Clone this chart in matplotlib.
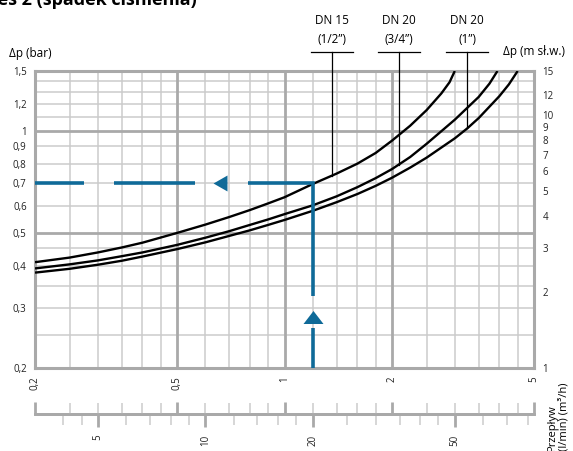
import matplotlib
matplotlib.use('Agg')
import matplotlib.pyplot as plt
from matplotlib.ticker import FixedLocator, FixedFormatter, NullLocator, NullFormatter

plt.rcParams['font.family'] = ['Open Sans', 'DejaVu Sans']

# ---------------- data ----------------
q_dn15 = [0.2, 0.25, 0.3, 0.35, 0.4, 0.5, 0.6, 0.7, 0.8, 0.9, 1.0, 1.2, 1.4, 1.6, 1.8, 2.0, 2.25, 2.5, 2.75, 2.9, 2.95, 3.0]
p_dn15 = [0.41, 0.423, 0.438, 0.453, 0.468, 0.50, 0.529, 0.557, 0.584, 0.611, 0.637, 0.697, 0.748, 0.80, 0.86, 0.935, 1.035, 1.15, 1.288, 1.39, 1.445, 1.5]

q_dn20a = [0.2, 0.25, 0.3, 0.35, 0.4, 0.5, 0.6, 0.7, 0.8, 0.9, 1.0, 1.2, 1.4, 1.6, 1.8, 2.0, 2.25, 2.5, 3.0, 3.5, 3.75, 3.95]
p_dn20a = [0.393, 0.404, 0.415, 0.427, 0.438, 0.461, 0.484, 0.506, 0.528, 0.548, 0.568, 0.603, 0.641, 0.682, 0.725, 0.771, 0.837, 0.915, 1.078, 1.258, 1.376, 1.5]

q_dn20b = [0.2, 0.25, 0.3, 0.35, 0.4, 0.5, 0.6, 0.7, 0.8, 0.9, 1.0, 1.2, 1.4, 1.6, 1.8, 2.0, 2.25, 2.5, 3.0, 3.25, 3.5, 4.0, 4.25, 4.5]
p_dn20b = [0.382, 0.392, 0.403, 0.414, 0.426, 0.448, 0.469, 0.49, 0.509, 0.528, 0.546, 0.581, 0.616, 0.651, 0.688, 0.727, 0.779, 0.833, 0.95, 1.016, 1.09, 1.265, 1.369, 1.5]

series_names = ["DN 15", "DN 20", "DN 20"]
series_sizes = ["(1/2”)", "(3/4”)", "(1”)"]
leader_q = [1.36, 2.09, 3.25]
leader_p = [0.738, 0.795, 1.016]

# example reading (blue guide)
guide_q = 1.2
guide_p = 0.7

# axes ticks / grids
x_ticks = [0.2, 0.5, 1, 2, 5]
x_ticklabels = ["0,2", "0,5", "1", "2", "5"]
x_grid_major = [0.5, 1, 2]
x_grid_minor = [0.25, 0.3, 0.35, 0.4, 0.45, 0.6, 0.7, 0.8, 0.9, 1.2, 1.4, 1.6, 1.8, 2.5, 3, 3.5, 4, 4.5]

y_ticks = [0.2, 0.3, 0.4, 0.5, 0.6, 0.7, 0.8, 0.9, 1, 1.2, 1.5]
y_ticklabels = ["0,2", "0,3", "0,4", "0,5", "0,6", "0,7", "0,8", "0,9", "1", "1,2", "1,5"]
y_grid_major = [0.5, 1]
y_grid_minor = [0.25, 0.3, 0.35, 0.4, 0.45, 0.6, 0.7, 0.8, 0.9, 1.1, 1.2, 1.3, 1.4]

yr_ticks = [1, 2, 3, 4, 5, 6, 7, 8, 9, 10, 12, 15]
yr_ticklabels = [str(v) for v in yr_ticks]

lmin_major = [5, 10, 20, 50]
lmin_minor = [4, 4.5, 6, 7, 8, 9, 12, 14, 16, 18, 25, 30, 35, 40, 45, 60, 70, 80]

# ---------------- figure ----------------
W, H = 573, 451
fig = plt.figure(figsize=(W / 100, H / 100), dpi=100)

L, R, T, B = 35, 534, 71, 368
ax = fig.add_axes([L / W, 1 - B / H, (R - L) / W, (B - T) / H])
ax.set_xscale('log')
ax.set_yscale('log')
ax.set_xlim(0.2, 5)
ax.set_ylim(0.2, 1.5)

grid_minor_c = '#cbcbcb'
grid_major_c = '#a9a9a9'
frame_c = '#a9a9a9'
blue = '#0f6a98'

for v in x_grid_minor:
    ax.axvline(v, color=grid_minor_c, lw=1.1, zorder=1)
for v in y_grid_minor:
    ax.axhline(v, color=grid_minor_c, lw=1.1, zorder=1)
for v in x_grid_major:
    ax.axvline(v, color=grid_major_c, lw=2.0, zorder=1.2)
for v in y_grid_major:
    ax.axhline(v, color=grid_major_c, lw=2.0, zorder=1.2)

for s in ax.spines.values():
    s.set_color(frame_c)
    s.set_linewidth(2.2)

ax.xaxis.set_major_locator(FixedLocator(x_ticks))
ax.xaxis.set_major_formatter(FixedFormatter(x_ticklabels))
ax.xaxis.set_minor_locator(NullLocator())
ax.yaxis.set_major_locator(FixedLocator(y_ticks))
ax.yaxis.set_major_formatter(FixedFormatter(y_ticklabels))
ax.yaxis.set_minor_locator(NullLocator())
ax.tick_params(axis='x', length=0, pad=6, labelsize=7, labelrotation=90, colors='#222222')
ax.tick_params(axis='y', length=0, pad=6, labelsize=7, colors='#222222')

# curves
for q, p in [(q_dn15, p_dn15), (q_dn20a, p_dn20a), (q_dn20b, p_dn20b)]:
    ax.plot(q, p, color='black', lw=1.7, zorder=3, solid_capstyle='butt', solid_joinstyle='round')

# guide lines (blue)
lw_b = 2.6
ax.plot([0.2, 0.274], [guide_p, guide_p], color=blue, lw=lw_b, solid_capstyle='butt', zorder=4)
ax.plot([0.332, 0.562], [guide_p, guide_p], color=blue, lw=lw_b, solid_capstyle='butt', zorder=4)
ax.plot([0.79, guide_q, guide_q], [guide_p, guide_p, 0.325], color=blue, lw=lw_b,
        solid_capstyle='butt', solid_joinstyle='miter', zorder=4)
ax.plot([guide_q, guide_q], [0.262, 0.2], color=blue, lw=lw_b, solid_capstyle='butt', zorder=4, clip_on=False)
left_tri = [(-7, 0), (7, -8), (7, 8), (-7, 0)]
up_tri = [(-10, -6.5), (10, -6.5), (0, 6.5), (-10, -6.5)]
ax.plot([0.66], [guide_p], marker=left_tri, ms=11.5, color=blue, mec='none', zorder=4)
ax.plot([guide_q], [0.283], marker=up_tri, ms=14.4, color=blue, mec='none', zorder=4)

# leaders & labels
ylo, yhi = 0.2, 1.5
def frac_to_y(f):
    return ylo * (yhi / ylo) ** f
y_lead_top = frac_to_y((B - 52) / (B - T))
half = 10 ** (21 / 357)
xt = ax.get_xaxis_transform()
for name, size, q, p in zip(series_names, series_sizes, leader_q, leader_p):
    ax.plot([q, q], [p, y_lead_top], color='black', lw=0.9, zorder=3.5, clip_on=False)
    ax.plot([q / half, q * half], [y_lead_top, y_lead_top], color='black', lw=0.9, zorder=3.5, clip_on=False)
    ax.text(q, (B - 21) / (B - T), name, transform=xt, ha='center', va='center', fontsize=8.5)
    ax.text(q, (B - 40) / (B - T), size, transform=xt, ha='center', va='center', fontsize=8.5)

# right axis (m sł.w.)
axr = ax.twinx()
axr.set_yscale('log')
axr.set_ylim(1, 15)
axr.yaxis.set_major_locator(FixedLocator(yr_ticks))
axr.yaxis.set_major_formatter(FixedFormatter(yr_ticklabels))
axr.yaxis.set_minor_locator(NullLocator())
axr.tick_params(axis='y', length=0, pad=6, labelsize=7, colors='#222222')
for s in axr.spines.values():
    s.set_visible(False)

# lower flow scale
LINE_Y = 414
axb = fig.add_axes([L / W, 1 - LINE_Y / H, (R - L) / W, 20 / H])
axb.patch.set_visible(False)
axb.set_xscale('log')
axb.set_xlim(0.2, 5)
axb.set_yticks([])
for k in ['top', 'left', 'right']:
    axb.spines[k].set_visible(False)
axb.spines['bottom'].set_color(frame_c)
axb.spines['bottom'].set_linewidth(2.0)
axb.xaxis.set_major_locator(FixedLocator(x_ticks))
axb.xaxis.set_minor_locator(FixedLocator(x_grid_minor))
axb.xaxis.set_major_formatter(NullFormatter())
axb.xaxis.set_minor_formatter(NullFormatter())
axb.tick_params(axis='x', which='major', direction='in', length=9, width=2.0, color=frame_c)
axb.tick_params(axis='x', which='minor', direction='in', length=8, width=1.1, color=grid_minor_c)

def m3h_to_lmin(q):
    return q * 1000.0 / 60.0

def lmin_to_m3h(l):
    return l * 60.0 / 1000.0

sec = axb.secondary_xaxis('bottom', functions=(m3h_to_lmin, lmin_to_m3h))
sec.xaxis.set_major_locator(FixedLocator(lmin_major))
sec.xaxis.set_major_formatter(FixedFormatter([str(v) for v in lmin_major]))
sec.xaxis.set_minor_locator(FixedLocator(lmin_minor))
sec.xaxis.set_minor_formatter(NullFormatter())
sec.tick_params(axis='x', which='major', direction='out', length=9, width=2.0, color=frame_c,
                labelsize=7, labelrotation=90, pad=6, labelcolor='#222222')
sec.tick_params(axis='x', which='minor', direction='out', length=8, width=1.1, color=grid_minor_c)
sec.spines['bottom'].set_color(frame_c)
sec.spines['bottom'].set_linewidth(2.0)

# texts
fig.text(9 / W, 1 - 53 / H, 'Δp (bar)', fontsize=8.5, ha='left', va='center')
fig.text(503 / W, 1 - 52 / H, 'Δp (m sł.w.)', fontsize=8.5, ha='left', va='center')
fig.text(558 / W, 1 - 451 / H, 'Przepływ\n(l/min) (m³/h)', fontsize=8, rotation=90,
         ha='center', va='bottom', multialignment='left', linespacing=1.0)
fig.text(197 / W, 1 - 5 / H, 'Wykres 2 (spadek ciśnienia)', fontsize=13, fontweight='bold',
         ha='right', va='baseline')

fig.savefig('out.png', dpi=100)
